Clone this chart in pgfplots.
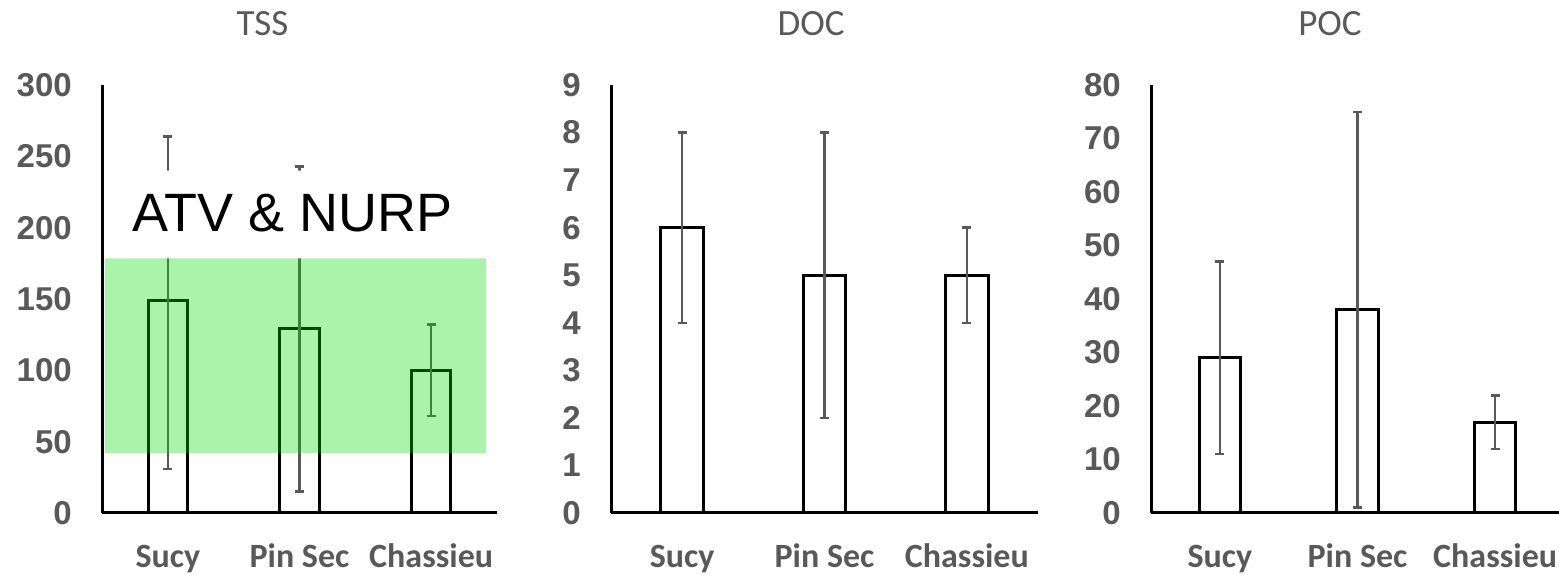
\documentclass[border=0pt]{standalone}
\usepackage{pgfplots}
\pgfplotsset{compat=1.18}
\usepackage{fontspec}
\setmainfont{Carlito}
\newfontfamily\arialfont{Liberation Sans}
\definecolor{gr}{RGB}{89,89,89}
\pgfplotsset{
 panel/.style={
  scale only axis, anchor=south west,
  height=428pt,
  axis x line=bottom, axis y line=left,
  axis line style={-, line width=3pt, black},
  axis on top,
  xmin=-0.5, xmax=2.5, ymin=0,
  xtick={0,1,2}, xticklabels={Sucy, Pin Sec, Chassieu},
  major tick length=0pt,
  /pgf/number format/assume math mode=true,
  yticklabel style={font=\arialfont\bfseries\fontsize{33}{33}\selectfont, text=gr, anchor=east, inner sep=0pt, xshift=-30pt},
  xticklabel style={font=\bfseries\fontsize{34}{34}\selectfont, text=gr, anchor=base, inner sep=0pt, yshift=-55pt},
 },
 bars/.style={ybar, bar width=0.3, bar shift=0pt, fill=white, draw=black, line width=3pt,
  error bars/.cd, y dir=both, y explicit,
  error bar style={gr, line width=2.5pt},
  error mark options={rotate=90, mark size=4.5pt, gr, line width=2.5pt}},
}
\begin{document}
\begin{tikzpicture}
\useasboundingbox (0,0) rectangle (1559pt,575pt);
% TSS
\begin{axis}[panel, at={(102pt,62pt)}, width=395pt, ymax=300, ytick={0,50,...,300}]
\addplot[bars] coordinates {
 (0,149) += (0,115) -= (0,118)
 (1,129) += (0,114) -= (0,114)
 (2,100) += (0,32) -= (0,32)
};
\addplot[draw=none, fill=white] coordinates {(-0.5,178.5) (2.5,178.5) (2.5,240) (-0.5,240) (-0.5,178.5)};
\addplot[draw=none, fill=green!85!black, fill opacity=0.33] coordinates {(-0.477,42) (2.416,42) (2.416,178.5) (-0.477,178.5) (-0.477,42)};
\node[anchor=base west, inner sep=0pt, font=\arialfont\fontsize{54}{54}\selectfont] at (axis cs:-0.272,197) {ATV \& NURP};
\end{axis}
% DOC
\begin{axis}[panel, at={(611pt,62pt)}, width=427pt, ymax=9, ytick={0,1,...,9}]
\addplot[bars] coordinates {
 (0,6) += (0,2) -= (0,2)
 (1,5) += (0,3) -= (0,3)
 (2,5) += (0,1) -= (0,1)
};
\end{axis}
% POC
\begin{axis}[panel, at={(1151pt,62pt)}, width=413pt, ymax=80, ytick={0,10,...,80}]
\addplot[bars] coordinates {
 (0,29) += (0,18) -= (0,18)
 (1,38) += (0,37) -= (0,37)
 (2,17) += (0,5) -= (0,5)
};
\end{axis}
\node[text=gr, font=\fontsize{37}{37}\selectfont] at (262.5pt,551.5pt) {TSS};
\node[text=gr, font=\fontsize{37}{37}\selectfont] at (811pt,551.5pt) {DOC};
\node[text=gr, font=\fontsize{37}{37}\selectfont] at (1330pt,551.5pt) {POC};
\end{tikzpicture}
\end{document}
